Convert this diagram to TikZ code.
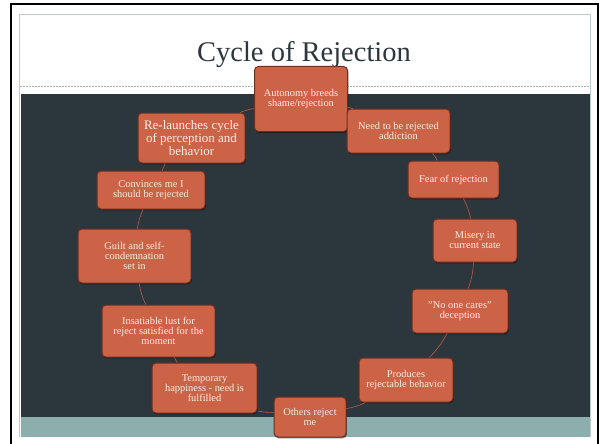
\documentclass[tikz,border=0pt]{standalone}
\usepackage{fontspec}
\setmainfont{Liberation Serif}
\usetikzlibrary{shadows}
\definecolor{panel}{HTML}{2C373D}
\definecolor{band}{HTML}{8CAFAE}
\definecolor{boxfill}{HTML}{CC6246}
\definecolor{boxline}{HTML}{6E2F23}
\definecolor{linkc}{HTML}{B85B44}
\definecolor{frameg}{HTML}{BCCBCB}
\definecolor{dashc}{HTML}{9DB4B4}
\definecolor{titlec}{HTML}{2C373D}
\definecolor{boxtext}{HTML}{FBEFE8}
\begin{document}
\begin{tikzpicture}[x=1pt,y=-1pt,
  box/.style={draw=boxline, line width=1pt, fill=boxfill, rounded corners=4pt,
    align=center, text=boxtext, font=\fontsize{10.4}{9.8}\selectfont, inner sep=2pt,
    drop shadow={shadow xshift=0.8pt, shadow yshift=-1.4pt, fill=black, opacity=0.5}},
  linkline/.style={draw=linkc, line width=0.6pt, bend left=8}]
\useasboundingbox (0,0) rectangle (600,444);
\fill[white] (0,0) rectangle (600,444);
\fill[panel] (21,94) rectangle (590.5,416.5);
\fill[band] (21,416.5) rectangle (590.5,436.5);
\draw[frameg, line width=0.8pt] (19.5,437) -- (19.5,14.5) -- (590.5,14.5) -- (590.5,437);
\draw[dashc, line width=0.6pt, dash pattern=on 2pt off 1pt] (20,86) -- (590,86);
\draw[black, line width=2pt] (11,446) -- (11,4) -- (598,4) -- (598,446);

\node[font=\fontsize{28.5}{30}\selectfont, text=titlec, anchor=base] (title) at (304,62) {Cycle of Rejection};

\node[box, minimum width=93pt, minimum height=65pt] (n1) at (301,99) {Autonomy breeds\\shame/rejection};
\node[box, minimum width=103pt, minimum height=44pt] (n2) at (398.5,131) {Need to be rejected\\addiction};
\node[box, minimum width=91pt, minimum height=37pt] (n3) at (453.5,179.5) {Fear of rejection};
\node[box, minimum width=84pt, minimum height=43pt] (n4) at (475,240.5) {Misery in\\current state};
\node[box, minimum width=96pt, minimum height=44pt] (n5) at (460,311) {"No one cares"\\deception};
\node[box, minimum width=94pt, minimum height=44pt] (n6) at (406,380) {Produces\\rejectable behavior};
\node[box, minimum width=72pt, minimum height=40pt] (n7) at (310,417) {Others reject\\me};
\node[box, minimum width=105pt, minimum height=50pt] (n8) at (204.5,388) {Temporary\\happiness - need is\\fulfilled};
\node[box, minimum width=113pt, minimum height=52pt] (n9) at (158.5,331) {Insatiable lust for\\reject satisfied for the\\moment};
\node[box, minimum width=113pt, minimum height=54pt] (n10) at (134.5,256) {Guilt and self-\\condemnation\\set in};
\node[box, minimum width=108pt, minimum height=38pt] (n11) at (151,190) {Convinces me I\\should be rejected};
\node[box, minimum width=107pt, minimum height=50pt, font=\fontsize{13}{11.5}\selectfont] (n12) at (191.5,138) {Re-launches cycle\\of perception and\\behavior};

\draw[linkline] (n1) to (n2);
\draw[linkline] (n2) to (n3);
\draw[linkline] (n3) to (n4);
\draw[linkline] (n4) to (n5);
\draw[linkline] (n5) to (n6);
\draw[linkline] (n6) to (n7);
\draw[linkline] (n7) to (n8);
\draw[linkline] (n8) to (n9);
\draw[linkline] (n9) to (n10);
\draw[linkline] (n10) to (n11);
\draw[linkline] (n11) to (n12);
\draw[linkline] (n12) to (n1);
\end{tikzpicture}
\end{document}
